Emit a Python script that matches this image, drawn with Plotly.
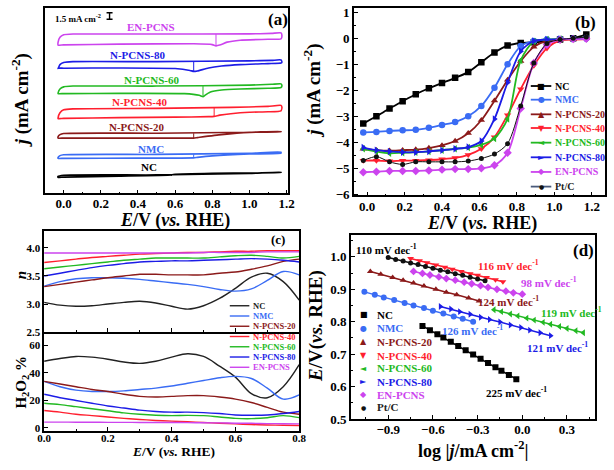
import plotly.graph_objects as go

W, H = 614, 470
def px(x): return x / W
def py(y): return 1 - y / H

SERIF = "Liberation Serif, Times New Roman, Times, serif"
GLYPH = "DejaVu Sans"

# ---------------- colours ----------------
C_NC, C_NMC, C_N20, C_N40 = "#000000", "#3a6cf4", "#8b1a1a", "#ff1f2f"
C_N60, C_N80, C_EN, C_PT = "#22b922", "#1c1ce6", "#cc44ee", "#111111"

# ---------------- panel (a): CV loops (mA cm-2, relative to each curve's baseline) ----------------
cv_names = ["EN-PCNS", "N-PCNS-80", "N-PCNS-60", "N-PCNS-40", "N-PCNS-20", "NMC", "NC"]
cv_offsets = [35.84, 29.56, 24.0, 18.82, 13.27, 8.44, 3.78]
cv_peak_E = [0.82, 0.70, 0.75, 0.81, 0.70, 0.70, 0.58]
cv_peak_top = [0.0, 0.0, 0.0, 0.3, 0.0, 0.05, 0.2]
cv_peak_bot = [-2.69, -2.22, -2.44, -1.71, -1.11, -0.78, -0.2]

EN_top_E = [-0.03, -0.02, 0.0, 0.05, 0.5, 1.0, 1.12, 1.17]
EN_top_j = [-1.84, -0.73, -0.18, 0, 0, 0.04, 0.16, 0.27]
EN_bot_E = [1.175, 1.17, 1.1, 0.95, 0.88, 0.84, 0.82, 0.80, 0.7, 0.3, 0.0, -0.03]
EN_bot_j = [-0.33, -1.07, -1.18, -1.40, -1.84, -2.51, -2.69, -2.40, -2.22, -2.29, -2.47, -2.51]

N80_top_E = [-0.03, -0.02, 0.0, 0.05, 0.5, 1.0, 1.12, 1.17]
N80_top_j = [-1.56, -0.67, -0.18, 0, 0, 0.18, 0.29, 0.38]
N80_bot_E = [1.175, 1.17, 1.1, 0.95, 0.85, 0.78, 0.72, 0.70, 0.68, 0.6, 0.3, 0.0, -0.03]
N80_bot_j = [-0.11, -0.33, -0.44, -0.67, -1.0, -1.44, -2.11, -2.22, -2.0, -1.56, -1.44, -1.49, -1.49]

N60_top_E = [-0.03, -0.02, 0.0, 0.05, 0.5, 1.0, 1.12, 1.17]
N60_top_j = [-1.56, -0.67, -0.18, 0, 0, 0.22, 0.40, 0.51]
N60_bot_E = [1.175, 1.17, 1.1, 0.95, 0.85, 0.79, 0.76, 0.75, 0.73, 0.65, 0.3, 0.0, -0.03]
N60_bot_j = [0.11, -0.33, -0.51, -0.67, -0.89, -1.33, -2.11, -2.44, -2.11, -1.73, -1.67, -1.71, -1.71]

N40_top_E = [-0.03, -0.02, 0.0, 0.05, 0.5, 0.9, 1.1, 1.17]
N40_top_j = [-2.0, -0.89, -0.22, 0, 0.11, 0.33, 0.56, 0.78]
N40_bot_E = [1.175, 1.17, 1.1, 1.0, 0.9, 0.84, 0.81, 0.78, 0.6, 0.3, 0.0, -0.03]
N40_bot_j = [0.33, -0.44, -0.67, -0.78, -1.11, -1.44, -1.71, -1.78, -1.89, -2.0, -2.18, -2.22]

N20_top_E = [-0.03, -0.02, 0.0, 0.5, 1.0, 1.17]
N20_top_j = [-0.78, -0.33, -0.07, 0, 0.22, 0.40]
N20_bot_E = [1.17, 1.0, 0.85, 0.72, 0.70, 0.5, 0.2, 0.0, -0.03]
N20_bot_j = [0.33, 0.18, -0.33, -1.0, -1.11, -1.11, -1.11, -1.11, -1.11]

NMC_top_E = [-0.03, -0.02, 0.0, 0.5, 1.0, 1.17]
NMC_top_j = [-0.67, -0.27, -0.07, 0, 0.27, 0.51]
NMC_bot_E = [1.17, 1.0, 0.8, 0.72, 0.70, 0.4, 0.0, -0.03]
NMC_bot_j = [0.29, 0.11, -0.33, -0.67, -0.78, -0.84, -0.89, -0.89]

NC_top_E = [-0.03, 0.0, 0.5, 1.0, 1.17]
NC_top_j = [-0.33, -0.07, 0, 0.33, 0.60]
NC_bot_E = [1.17, 0.8, 0.6, 0.58, 0.3, 0.0, -0.03]
NC_bot_j = [0.56, 0.38, 0.16, 0, -0.27, -0.51, -0.56]

cv_loops = [(EN_top_E, EN_top_j, EN_bot_E, EN_bot_j), (N80_top_E, N80_top_j, N80_bot_E, N80_bot_j),
            (N60_top_E, N60_top_j, N60_bot_E, N60_bot_j), (N40_top_E, N40_top_j, N40_bot_E, N40_bot_j),
            (N20_top_E, N20_top_j, N20_bot_E, N20_bot_j), (NMC_top_E, NMC_top_j, NMC_bot_E, NMC_bot_j),
            (NC_top_E, NC_top_j, NC_bot_E, NC_bot_j)]
cv_colors = [C_EN, C_N80, C_N60, C_N40, C_N20, C_NMC, C_NC]
scale_bar_E = 0.247
scale_bar_center = 39.95
scale_bar_mA = 1.5

# ---------------- panel (b): LSV ----------------
E_lsv = [-0.02, 0.05, 0.12, 0.19, 0.26, 0.33, 0.40, 0.47, 0.54, 0.61, 0.68, 0.75, 0.82, 0.89, 0.96, 1.03, 1.10, 1.17]
j_NC = [-3.28, -3.0, -2.7, -2.42, -2.15, -1.92, -1.72, -1.52, -1.3, -0.92, -0.55, -0.28, -0.18, -0.15, -0.12, -0.05, 0.0, 0.15]
j_NMC = [-3.62, -3.6, -3.56, -3.54, -3.52, -3.44, -3.33, -3.22, -3.0, -2.6, -1.9, -1.0, -0.3, -0.1, -0.05, -0.03, -0.02, 0.0]
j_N20 = [-4.25, -4.3, -4.32, -4.3, -4.28, -4.22, -4.12, -3.95, -3.65, -3.15, -2.4, -1.6, -0.88, -0.33, -0.1, -0.05, -0.03, 0.0]
j_N40 = [-4.7, -4.7, -4.72, -4.7, -4.7, -4.68, -4.65, -4.6, -4.48, -4.25, -3.8, -2.95, -1.95, -1.05, -0.38, -0.08, -0.05, -0.03]
j_N60 = [-4.25, -4.35, -4.42, -4.4, -4.38, -4.35, -4.3, -4.25, -4.2, -4.1, -3.85, -3.1, -0.85, -0.12, -0.05, -0.03, -0.02, 0.0]
j_N80 = [-4.2, -4.3, -4.35, -4.38, -4.38, -4.35, -4.3, -4.25, -4.18, -3.95, -3.1, -1.7, -0.5, -0.1, -0.05, -0.03, -0.02, 0.0]
j_EN = [-5.15, -5.13, -5.1, -5.1, -5.1, -5.08, -5.05, -5.03, -5.03, -5.0, -4.88, -4.4, -2.7, -0.95, -0.25, -0.05, -0.03, -0.02]
j_PtC = [-4.7, -4.55, -4.75, -4.85, -4.75, -4.75, -4.75, -4.75, -4.72, -4.62, -4.45, -4.05, -2.6, -0.95, -0.2, -0.05, 0.0, 0.05]

# ---------------- panel (c): n and H2O2 % ----------------
E_rrde = [0.0, 0.05, 0.1, 0.15, 0.2, 0.25, 0.3, 0.35, 0.4, 0.45, 0.5, 0.55, 0.6, 0.65, 0.7, 0.75, 0.8]
n_NC = [3.03, 2.98, 2.96, 2.97, 3.0, 3.03, 3.05, 3.02, 2.96, 2.91, 2.97, 3.1, 3.28, 3.48, 3.55, 3.4, 3.07]
n_NMC = [3.32, 3.4, 3.45, 3.47, 3.47, 3.46, 3.44, 3.41, 3.38, 3.35, 3.31, 3.26, 3.23, 3.27, 3.42, 3.58, 3.52]
n_N20 = [3.31, 3.35, 3.39, 3.43, 3.47, 3.5, 3.53, 3.53, 3.52, 3.52, 3.52, 3.55, 3.57, 3.62, 3.68, 3.76, 3.8]
n_N40 = [3.74, 3.77, 3.8, 3.83, 3.85, 3.87, 3.89, 3.9, 3.91, 3.92, 3.92, 3.93, 3.94, 3.94, 3.95, 3.95, 3.95]
n_N60 = [3.63, 3.66, 3.69, 3.72, 3.75, 3.78, 3.8, 3.82, 3.82, 3.82, 3.82, 3.84, 3.86, 3.87, 3.85, 3.82, 3.85]
n_N80 = [3.5, 3.55, 3.6, 3.65, 3.69, 3.72, 3.75, 3.76, 3.77, 3.77, 3.78, 3.79, 3.8, 3.81, 3.8, 3.78, 3.75]
n_EN = [3.91, 3.91, 3.91, 3.91, 3.91, 3.91, 3.91, 3.91, 3.91, 3.91, 3.92, 3.92, 3.92, 3.92, 3.93, 3.93, 3.93]

h_NC = [48.5, 50.5, 52.0, 51.5, 50.0, 48.0, 47.0, 48.5, 51.5, 54.0, 52.0, 45.0, 37.0, 25.0, 22.0, 30.0, 46.0]
h_NMC = [33.9, 30.0, 27.5, 26.5, 26.5, 27.0, 28.0, 29.0, 30.5, 32.5, 34.5, 36.5, 37.5, 36.0, 29.0, 21.0, 24.0]
h_N20 = [33.9, 32.0, 30.0, 28.0, 26.5, 24.5, 23.0, 22.5, 23.0, 23.5, 23.5, 22.5, 21.0, 18.5, 15.0, 11.5, 10.0]
h_N40 = [12.7, 11.5, 10.0, 9.0, 8.0, 7.0, 6.2, 5.5, 5.0, 4.5, 4.0, 3.5, 3.0, 2.5, 2.2, 2.0, 1.8]
h_N60 = [18.0, 17.0, 15.5, 14.0, 12.5, 11.0, 10.0, 9.3, 9.0, 9.2, 9.0, 8.0, 7.0, 6.8, 7.5, 9.0, 7.5]
h_N80 = [24.5, 22.0, 20.0, 18.0, 16.0, 14.5, 13.0, 12.0, 11.5, 11.5, 11.2, 10.5, 9.5, 9.3, 9.5, 10.5, 12.0]
h_EN = [4.3, 4.3, 4.2, 4.2, 4.1, 4.1, 4.0, 4.0, 4.0, 3.9, 3.8, 3.7, 3.5, 3.4, 3.2, 3.1, 3.0]

# ---------------- panel (d): Tafel ----------------
t_NC_x = [-0.67, -0.62, -0.57, -0.53, -0.48, -0.43, -0.38, -0.33, -0.28, -0.23, -0.18, -0.14, -0.09, -0.04]
t_NC_y = [0.787, 0.774, 0.761, 0.751, 0.738, 0.725, 0.712, 0.699, 0.686, 0.673, 0.660, 0.649, 0.636, 0.623]
t_NMC_x = [-1.06, -0.99, -0.93, -0.86, -0.79, -0.73, -0.66, -0.60, -0.53, -0.46, -0.40, -0.33]
t_NMC_y = [0.892, 0.883, 0.875, 0.867, 0.858, 0.850, 0.842, 0.834, 0.825, 0.816, 0.809, 0.800]
t_N20_x = [-1.02, -0.95, -0.87, -0.80, -0.73, -0.66, -0.58, -0.51, -0.44, -0.36, -0.29]
t_N20_y = [0.955, 0.946, 0.936, 0.928, 0.919, 0.910, 0.900, 0.891, 0.883, 0.873, 0.864]
t_N40_x = [-0.75, -0.69, -0.64, -0.58, -0.52, -0.47, -0.41, -0.35, -0.30, -0.24, -0.18, -0.13]
t_N40_y = [0.995, 0.988, 0.982, 0.975, 0.968, 0.962, 0.955, 0.948, 0.943, 0.936, 0.929, 0.923]
t_N60_x = [-0.19, -0.14, -0.08, -0.03, 0.03, 0.08, 0.14, 0.19, 0.25, 0.30, 0.36, 0.41]
t_N60_y = [0.837, 0.831, 0.824, 0.818, 0.811, 0.805, 0.798, 0.792, 0.785, 0.779, 0.772, 0.766]
t_N80_x = [-0.55, -0.48, -0.42, -0.35, -0.28, -0.22, -0.15, -0.08, -0.01, 0.05, 0.12, 0.19]
t_N80_y = [0.847, 0.839, 0.831, 0.823, 0.814, 0.807, 0.799, 0.790, 0.782, 0.774, 0.766, 0.757]
t_EN_x = [-0.73, -0.67, -0.62, -0.56, -0.51, -0.45, -0.39, -0.34, -0.28, -0.23, -0.17, -0.11, -0.06, 0.00]
t_EN_y = [0.955, 0.949, 0.944, 0.938, 0.933, 0.928, 0.922, 0.917, 0.911, 0.906, 0.900, 0.894, 0.889, 0.885]
t_PT_x = [-0.90, -0.85, -0.80, -0.75, -0.70, -0.65, -0.60, -0.55, -0.50, -0.45, -0.40, -0.35, -0.30, -0.25]
t_PT_y = [0.998, 0.992, 0.987, 0.981, 0.976, 0.970, 0.965, 0.959, 0.954, 0.948, 0.943, 0.937, 0.932, 0.926]
tafel_slopes = ["110", "116", "98", "124", "119", "126", "121", "225"]

legend_names = ["NC", "NMC", "N-PCNS-20", "N-PCNS-40", "N-PCNS-60", "N-PCNS-80", "EN-PCNS", "Pt/C"]
legend_colors = [C_NC, C_NMC, C_N20, C_N40, C_N60, C_N80, C_EN, C_PT]
legend_symbols = ["square", "circle", "triangle-up", "triangle-down", "triangle-left", "triangle-right", "diamond", "circle"]
legend_glyphs = ["■", "●", "▲", "▼", "◄", "►", "◆", "●"]

fig = go.Figure()

# ---- (a)
for (tE, tj, bE, bj), off, colr in zip(cv_loops, cv_offsets, cv_colors):
    xs = list(tE) + list(bE) + [tE[0]]
    ys = [off + v for v in tj] + [off + v for v in bj] + [off + tj[0]]
    fig.add_trace(go.Scatter(x=xs, y=ys, mode="lines", line=dict(color=colr, width=1.6, shape="spline", smoothing=0.5),
                             xaxis="x", yaxis="y", showlegend=False, hoverinfo="skip"))
for Ep, tp, bp, off, colr in zip(cv_peak_E, cv_peak_top, cv_peak_bot, cv_offsets, cv_colors):
    fig.add_trace(go.Scatter(x=[Ep, Ep], y=[off + tp, off + bp], mode="lines", line=dict(color=colr, width=1),
                             xaxis="x", yaxis="y", showlegend=False, hoverinfo="skip"))
fig.add_trace(go.Scatter(x=[scale_bar_E], y=[scale_bar_center], mode="markers",
                         marker=dict(size=1, color="black"),
                         error_y=dict(type="data", array=[scale_bar_mA / 2], color="black", thickness=1.4, width=3),
                         xaxis="x", yaxis="y", showlegend=False, hoverinfo="skip"))

# ---- (b)
lsv_series = [j_NC, j_NMC, j_N20, j_N40, j_N60, j_N80, j_EN, j_PtC]
for name, jj, colr, sym in zip(legend_names, lsv_series, legend_colors, legend_symbols):
    lw = 1.0 if name == "Pt/C" else 1.8
    ms = 5 if name == "Pt/C" else 6.5
    fig.add_trace(go.Scatter(x=E_lsv, y=jj, mode="lines+markers", name=name,
                             line=dict(color=colr, width=lw, shape="spline", smoothing=0.8),
                             marker=dict(symbol=sym, size=ms, color=colr),
                             xaxis="x2", yaxis="y2", showlegend=False))

# ---- (c)
n_series = [n_NC, n_NMC, n_N20, n_N40, n_N60, n_N80, n_EN]
h_series = [h_NC, h_NMC, h_N20, h_N40, h_N60, h_N80, h_EN]
c_cols = ["#222222", C_NMC, C_N20, C_N40, C_N60, C_N80, C_EN]
for nn, hh, colr in zip(n_series, h_series, c_cols):
    fig.add_trace(go.Scatter(x=E_rrde, y=nn, mode="lines", line=dict(color=colr, width=1.4, shape="spline", smoothing=1.0),
                             xaxis="x3", yaxis="y3", showlegend=False))
    fig.add_trace(go.Scatter(x=E_rrde, y=hh, mode="lines", line=dict(color=colr, width=1.4, shape="spline", smoothing=1.0),
                             xaxis="x4", yaxis="y4", showlegend=False))

# ---- (d)
tafel = [(t_NC_x, t_NC_y), (t_NMC_x, t_NMC_y), (t_N20_x, t_N20_y), (t_N40_x, t_N40_y),
         (t_N60_x, t_N60_y), (t_N80_x, t_N80_y), (t_EN_x, t_EN_y), (t_PT_x, t_PT_y)]
for name, (tx, ty), colr, sym in zip(legend_names, tafel, legend_colors, legend_symbols):
    ms = 5 if name == "Pt/C" else 6
    fig.add_trace(go.Scatter(x=tx, y=ty, mode="lines+markers", name=name,
                             line=dict(color=colr, width=1.5), marker=dict(symbol=sym, size=ms, color=colr),
                             xaxis="x5", yaxis="y5", showlegend=False))

# ---------------- axes ----------------
def ax(**kw):
    d = dict(showline=True, linecolor="black", linewidth=1.5, mirror=True, ticks="inside", ticklen=4,
             tickwidth=1.2, tickcolor="black", showgrid=False, zeroline=False,
             tickfont=dict(family=SERIF, size=13, color="black", weight="bold"))
    d.update(kw)
    return d

minor = lambda dt: dict(ticks="inside", ticklen=2, tickcolor="black", dtick=dt)
small_tf = dict(family=SERIF, size=11, color="black", weight="bold")

fig.update_layout(
    width=W, height=H, margin=dict(l=0, r=0, t=0, b=0), paper_bgcolor="white", plot_bgcolor="white",
    showlegend=False,
    xaxis=ax(domain=[px(39), px(288)], anchor="y", range=[-0.1, 1.21], tick0=0, dtick=0.2, tickformat=".1f",
             minor=minor(0.1), ticklabelstandoff=-3),
    yaxis=ax(domain=[py(195), py(5)], anchor="x", range=[-0.44, 41.8], showticklabels=False, ticks=""),
    xaxis2=ax(domain=[px(355), px(612)], anchor="y2", range=[-0.07, 1.27], tick0=0, dtick=0.2, tickformat=".1f",
              minor=minor(0.1), ticklabelstandoff=-2),
    yaxis2=ax(domain=[py(197), py(5)], anchor="x2", range=[-6.04, 1.17], dtick=1, minor=minor(0.5)),
    xaxis3=ax(domain=[px(38), px(299)], anchor="y3", range=[0, 0.8], dtick=0.2, showticklabels=False, minor=minor(0.1)),
    yaxis3=ax(domain=[py(337), py(233)], anchor="x3", range=[2.5, 4.31], tickvals=[2.5, 3.0, 3.5, 4.0], tickformat=".1f",
              tickfont=small_tf),
    xaxis4=ax(domain=[px(38), px(299)], anchor="y4", range=[0, 0.8], dtick=0.2, tickformat=".1f", minor=minor(0.1),
              mirror=False, tickfont=small_tf, ticklabelstandoff=-4),
    yaxis4=ax(domain=[py(438), py(337)], anchor="x4", range=[-2.0, 69.7], tickvals=[0, 20, 40, 60], tickfont=small_tf),
    xaxis5=ax(domain=[px(352), px(602)], anchor="y5", range=[-1.15, 0.49], tickvals=[-0.9, -0.6, -0.3, 0.0, 0.3],
              tickformat=".1f", ticklabelstandoff=-2,
              minor=dict(ticks="inside", ticklen=2, tickcolor="black", tickvals=[-1.05, -0.75, -0.45, -0.15, 0.15, 0.45])),
    yaxis5=ax(domain=[py(426), py(238)], anchor="x5", range=[0.5, 1.066], dtick=0.1, tickformat=".1f", minor=minor(0.05)),
)

# ---------------- annotations & legend glyphs ----------------
ann = []
shapes = []
def text(t, x, y, size, color="black", angle=0, xanchor="center"):
    ann.append(dict(text=t, x=px(x), y=py(y), xref="paper", yref="paper", showarrow=False, textangle=angle,
                    xanchor=xanchor, yanchor="middle", font=dict(family=SERIF, size=size, color=color)))

EV = "<b><i>E</i>/V (<i>vs.</i> RHE)</b>"
text(EV, 172, 223, 18)
text("<b><i>j</i> (mA cm<sup>-2</sup>)</b>", 14, 100, 19, angle=-90)
text(EV, 486, 226, 18)
text("<b><i>j</i> (mA cm<sup>-2</sup>)</b>", 313, 90, 19, angle=-90)
text(EV, 170, 459, 13.5)
text("<b><i>n</i></b>", 15, 279, 15, angle=-90)
text("<b>H<sub>2</sub>O<sub>2</sub> %</b>", 15, 388, 15, angle=-90)
text("<b>log |<i>j</i>/mA cm<sup>-2</sup>|</b>", 477, 457, 18)
text("<b><i>E</i>/V(<i>vs.</i> RHE)</b>", 316, 331, 19, angle=-90)
text("<b>(a)</b>", 277, 17, 17)
text("<b>(b)</b>", 592, 20, 17)
text("<b>(c)</b>", 277, 242, 13)
text("<b>(d)</b>", 590, 253, 17)
text("<b>1.5 mA cm<sup>-2</sup></b>", 73, 15, 9)

cv_label_pos = [(147, 25), (134, 53), (148, 79), (136, 101), (133, 127), (147, 149), (145, 168)]
for nm, (lx, ly), colr in zip(cv_names, cv_label_pos, cv_colors):
    text("<b>%s</b>" % nm, lx, ly, 11, colr)

slope_pos = [(388, 252, C_NC), (513, 268, C_N40), (555, 286, C_EN), (513, 305, C_N20),
             (578, 316, C_N60), (476, 335, C_NMC), (563, 352, C_N80), (521, 398, C_NC)]
for s, (sx, sy, colr) in zip(tafel_slopes, slope_pos):
    text("<b>%s mV dec<sup>-1</sup></b>" % s, sx, sy, 11, colr)

def glyph(g, x, y, size, color):
    ann.append(dict(text=g, x=px(x), y=py(y), xref="paper", yref="paper", showarrow=False,
                    xanchor="center", yanchor="middle", font=dict(family=GLYPH, size=size, color=color)))

# legend (b)
leg_b_y = [85, 99, 114, 128, 143, 158, 173, 188]
for nm, yy, colr, g in zip(legend_names, leg_b_y, legend_colors, legend_glyphs):
    lc = "#4a5a7a" if nm == "Pt/C" else colr
    shapes.append(dict(type="line", xref="paper", yref="paper", x0=px(536), x1=px(557), y0=py(yy), y1=py(yy),
                       line=dict(color=lc, width=1.8)))
    glyph(g, 546.5, yy, 6 if nm == "Pt/C" else 8, colr)
    text("<b>%s</b>" % nm, 559, yy, 10, colr if nm != "Pt/C" else "#222222", xanchor="left")

# legend (c)
leg_c_y = [310, 320.5, 331, 341.5, 352, 362.5, 373]
for nm, yy, colr in zip(legend_names[:7], leg_c_y, c_cols):
    shapes.append(dict(type="line", xref="paper", yref="paper", x0=px(228), x1=px(248), y0=py(yy), y1=py(yy),
                       line=dict(color=colr, width=1.4)))
    text("<b>%s</b>" % nm, 250, yy, 8.5, colr, xanchor="left")

# legend (d)
leg_d_y = [319, 333, 347, 361, 374, 388, 401, 414]
for nm, yy, colr, g in zip(legend_names, leg_d_y, legend_colors, legend_glyphs):
    glyph(g, 365, yy, 6 if nm == "Pt/C" else 8, colr)
    text("<b>%s</b>" % nm, 377, yy, 11, colr if nm != "Pt/C" else "#222222", xanchor="left")

fig.update_layout(annotations=ann, shapes=shapes)
fig.write_html("out.html", config={"displayModeBar": False},
               post_script="document.body.style.margin='0';document.body.style.overflow='hidden';")
